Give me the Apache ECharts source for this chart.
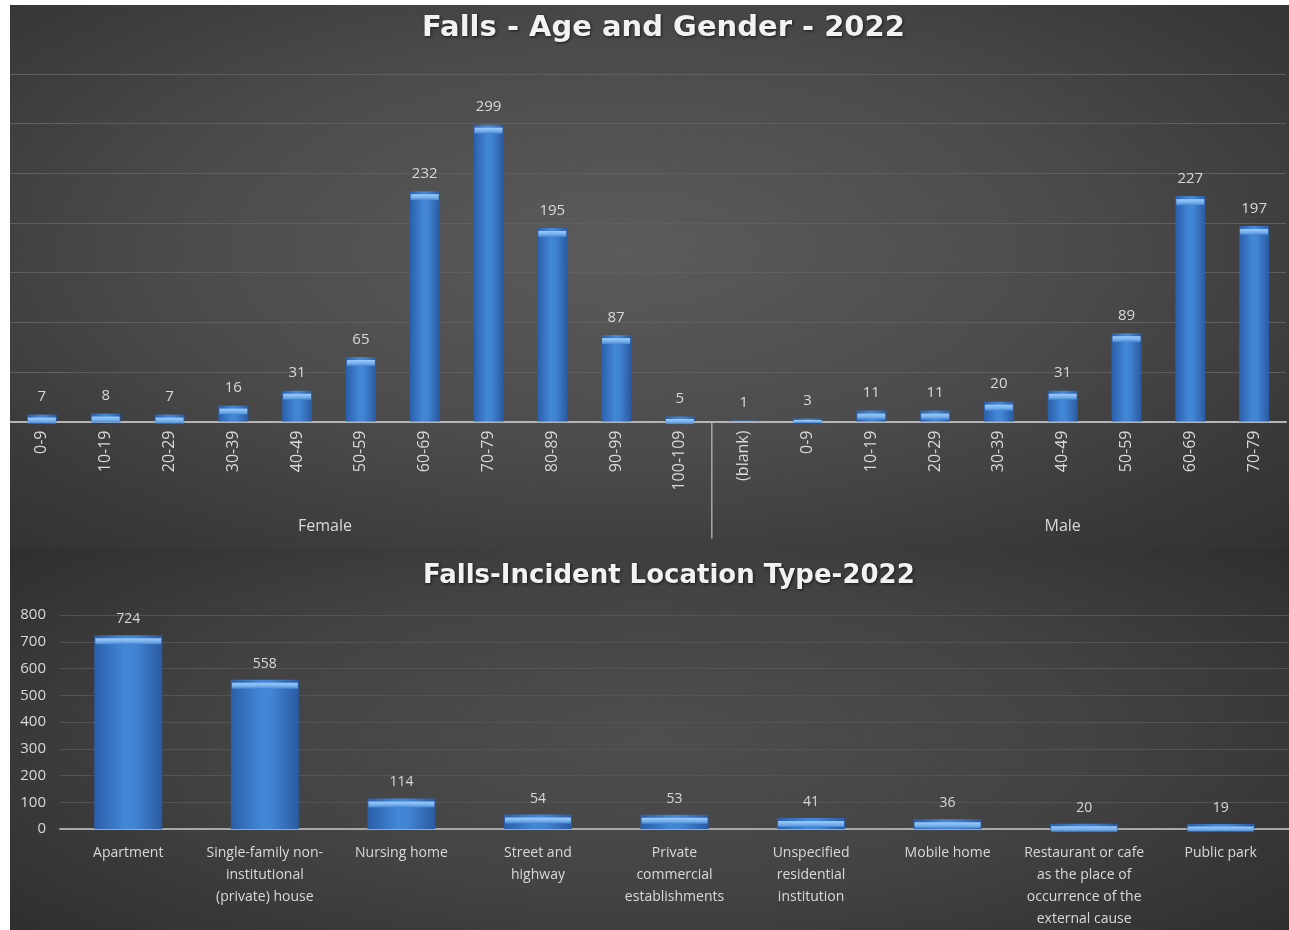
<!DOCTYPE html>
<html>
<head>
<meta charset="utf-8">
<script src="https://cdn.jsdelivr.net/npm/echarts@6/dist/echarts.min.js"></script>
<style>
  html, body { margin: 0; padding: 0; background: #ffffff; width: 1289px; height: 930px; overflow: hidden; }
  .panel { position: absolute; left: 10px; width: 1279px; }
  #ageChart {
    top: 5px; height: 543px;
    background: radial-gradient(ellipse 75% 80% at 48% 45%, #5b5b5b 0%, #4c4c4c 45%, #393939 80%, #303030 100%);
  }
  #locationChart {
    top: 548px; height: 382px;
    background: radial-gradient(ellipse 75% 90% at 50% 50%, #4e4e4e 0%, #434343 45%, #323232 80%, #282828 100%);
  }
</style>
</head>
<body>
<div id="ageChart" class="panel"></div>
<div id="locationChart" class="panel"></div>
<script>
// Falls by age band, grouped by gender
const femaleAgeBands = ['0-9', '10-19', '20-29', '30-39', '40-49', '50-59', '60-69', '70-79', '80-89', '90-99', '100-109'];
const femaleCounts = [7, 8, 7, 16, 31, 65, 232, 299, 195, 87, 5];
const maleAgeBands = ['(blank)', '0-9', '10-19', '20-29', '30-39', '40-49', '50-59', '60-69', '70-79'];
const maleCounts = [1, 3, 11, 11, 20, 31, 89, 227, 197];
const genderGroups = ['Female', 'Male'];

// Falls by incident location type
const locationTypes = [
  'Apartment',
  'Single-family non-\ninstitutional\n(private) house',
  'Nursing home',
  'Street and\nhighway',
  'Private\ncommercial\nestablishments',
  'Unspecified\nresidential\ninstitution',
  'Mobile home',
  'Restaurant or cafe\nas the place of\noccurrence of the\nexternal cause',
  'Public park'
];
const locationCounts = [724, 558, 114, 54, 53, 41, 36, 20, 19];
const locationTicks = [0, 100, 200, 300, 400, 500, 600, 700, 800];

const FONT = 'Open Sans';
const TITLE_FONT = 'DejaVu Sans';
const LABEL_COLOR = '#d9d9d9';

function barFill() {
  return new echarts.graphic.LinearGradient(0, 0, 1, 0, [
    { offset: 0, color: '#2a5ea8' },
    { offset: 0.45, color: '#4387d8' },
    { offset: 0.6, color: '#4184d4' },
    { offset: 1, color: '#2a5aa0' }
  ]);
}
// lighter bevel on the top edge of each bar
function capFill() {
  return new echarts.graphic.LinearGradient(0, 0, 0, 1, [
    { offset: 0, color: '#9ccbf7' },
    { offset: 0.55, color: '#78b1ec' },
    { offset: 1, color: '#4386d6' }
  ]);
}

const titleStyle = {
  color: '#f2f2f2',
  fontFamily: TITLE_FONT,
  fontWeight: 'bold',
  textShadowColor: 'rgba(0,0,0,0.65)',
  textShadowBlur: 3,
  textShadowOffsetX: 1,
  textShadowOffsetY: 1
};

// bevel cap height in px, never taller than the bar itself
function capSeries(values, barWidth, pxPerUnit, maxCap) {
  return {
    type: 'pictorialBar',
    data: values,
    symbol: 'rect',
    symbolPosition: 'end',
    symbolSize: function (v) { return [barWidth - 2, Math.min(maxCap, v * pxPerUnit)]; },
    symbolOffset: [0, '50%'],
    itemStyle: { color: capFill() },
    silent: true,
    z: 3
  };
}

// ---------- Age and gender ----------
const ageCategories = femaleAgeBands.concat(maleAgeBands);
const ageValues = femaleCounts.concat(maleCounts);
const groupBoundary = femaleAgeBands.length;
const AGE_BAR = 30;

const ageChart = echarts.init(document.getElementById('ageChart'), null, { renderer: 'canvas' });
ageChart.setOption({
  backgroundColor: 'transparent',
  animation: false,
  title: {
    text: 'Falls - Age and Gender - 2022',
    left: 407,
    top: 4,
    textStyle: Object.assign({ fontSize: 29 }, titleStyle)
  },
  grid: { left: -6, right: 3, top: 69, bottom: 126.5, containLabel: false },
  xAxis: {
    type: 'category',
    data: ageCategories,
    axisLine: { lineStyle: { color: '#b5b5b5', width: 2 } },
    axisTick: { show: false },
    axisLabel: {
      rotate: 90,
      interval: 0,
      margin: 9,
      color: LABEL_COLOR,
      fontFamily: FONT,
      fontSize: 16
    }
  },
  yAxis: {
    type: 'value',
    min: 0,
    max: 350,
    interval: 50,
    axisLabel: { show: false },
    axisLine: { show: false },
    axisTick: { show: false },
    splitLine: { lineStyle: { color: '#5f5f5f', width: 1 } }
  },
  series: [{
    type: 'bar',
    data: ageValues,
    barWidth: AGE_BAR,
    itemStyle: { color: barFill() },
    label: {
      show: true,
      position: 'top',
      distance: 10,
      color: LABEL_COLOR,
      fontFamily: FONT,
      fontSize: 15
    },
    z: 2
  }]
});

(function () {
  const px = function (i) { return ageChart.convertToPixel({ xAxisIndex: 0 }, i); };
  const y0 = ageChart.convertToPixel({ yAxisIndex: 0 }, 0);
  const y100 = ageChart.convertToPixel({ yAxisIndex: 0 }, 100);
  const pxPerUnit = (y0 - y100) / 100;
  const sepX = (px(groupBoundary - 1) + px(groupBoundary)) / 2;
  // group captions under their age bands
  const femaleX = (px(4) + px(5)) / 2 - 4;
  const maleX = px(16);
  ageChart.setOption({
    series: [{}, capSeries(ageValues, AGE_BAR, pxPerUnit, 6)],
    graphic: [
      {
        type: 'line', silent: true,
        shape: { x1: sepX, y1: y0, x2: sepX, y2: y0 + 117 },
        style: { stroke: '#a8a8a8', lineWidth: 1.5 }
      },
      {
        type: 'text', x: femaleX, y: 521,
        style: { text: genderGroups[0], fill: LABEL_COLOR, font: '16px "Open Sans"', align: 'center', verticalAlign: 'middle' }
      },
      {
        type: 'text', x: maleX, y: 521,
        style: { text: genderGroups[1], fill: LABEL_COLOR, font: '16px "Open Sans"', align: 'center', verticalAlign: 'middle' }
      }
    ]
  });
})();

// ---------- Incident location type ----------
const LOC_BAR = 68;
const locationChart = echarts.init(document.getElementById('locationChart'), null, { renderer: 'canvas' });
locationChart.setOption({
  backgroundColor: 'transparent',
  animation: false,
  title: {
    text: 'Falls-Incident Location Type-2022',
    left: 408,
    top: 10,
    textStyle: Object.assign({ fontSize: 26 }, titleStyle)
  },
  grid: { left: 50, right: -10, top: 67, bottom: 99, containLabel: false },
  xAxis: {
    type: 'category',
    data: locationTypes,
    axisLine: { lineStyle: { color: '#a8a8a8', width: 2 } },
    axisTick: { show: false },
    axisLabel: {
      interval: 0,
      margin: 13,
      color: LABEL_COLOR,
      fontFamily: FONT,
      fontSize: 14,
      lineHeight: 22
    }
  },
  yAxis: {
    type: 'value',
    min: locationTicks[0],
    max: locationTicks[locationTicks.length - 1],
    interval: locationTicks[1] - locationTicks[0],
    axisLine: { show: false },
    axisTick: { show: false },
    axisLabel: {
      margin: 14,
      color: LABEL_COLOR,
      fontFamily: FONT,
      fontSize: 15
    },
    splitLine: { lineStyle: { color: '#545454', width: 1 } }
  },
  series: [{
    type: 'bar',
    data: locationCounts,
    barWidth: LOC_BAR,
    itemStyle: { color: barFill() },
    label: {
      show: true,
      position: 'top',
      distance: 9,
      color: LABEL_COLOR,
      fontFamily: FONT,
      fontSize: 14
    },
    z: 2
  }]
});

(function () {
  const y0 = locationChart.convertToPixel({ yAxisIndex: 0 }, 0);
  const y100 = locationChart.convertToPixel({ yAxisIndex: 0 }, 100);
  const pxPerUnit = (y0 - y100) / 100;
  locationChart.setOption({
    series: [{}, capSeries(locationCounts, LOC_BAR, pxPerUnit, 6)]
  });
})();
</script>
</body>
</html>
